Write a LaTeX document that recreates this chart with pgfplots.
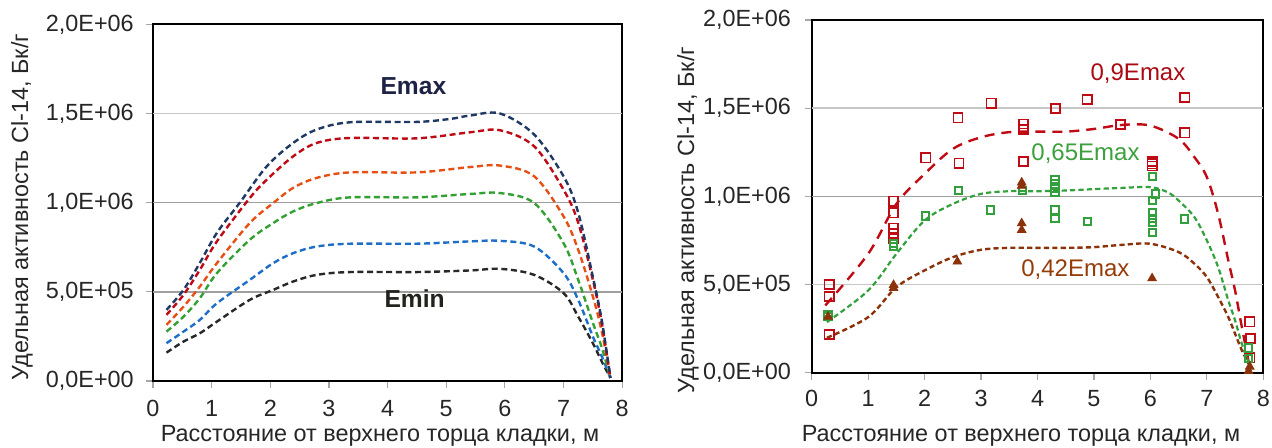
\documentclass[border=0pt]{standalone}
\usepackage{fontspec}
\setmainfont{Liberation Sans}
\usepackage{pgfplots}
\pgfplotsset{compat=1.18}

\definecolor{cnavy}{RGB}{31,56,100}
\definecolor{cred}{RGB}{190,10,20}
\definecolor{corange}{RGB}{230,80,20}
\definecolor{cgreen}{RGB}{50,160,50}
\definecolor{cblue}{RGB}{30,110,200}
\definecolor{cblack}{RGB}{40,40,40}
\definecolor{rred}{RGB}{192,10,20}
\definecolor{rgreen}{RGB}{50,160,60}
\definecolor{rbrown}{RGB}{140,50,10}

\newcommand{\lblfont}{\fontsize{11.7}{14}\selectfont}

\pgfplotsset{
  panel/.style={
    scale only axis,
    xmin=0, xmax=8, ymin=0, ymax=2e6,
    scaled y ticks=false, scaled x ticks=false,
    xtick={0,1,2,3,4,5,6,7,8},
    xticklabels={0,1,2,3,4,5,6,7,8},
    ytick={0,5e5,1e6,1.5e6,2e6},
    yticklabels={{0,0E+00},{5,0E+05},{1,0E+06},{1,5E+06},{2,0E+06}},
    tick align=outside, tick pos=left,
    major tick length=3.5pt,
    tick style={gray!70, line width=0.6pt},
    axis line style={black, line width=1.1pt},
    ticklabel style={font=\lblfont, text=black!85},
    clip=false,
  },
  lcurve/.style={smooth, tension=0.55, line width=1.2pt, dash pattern=on 3pt off 1.8pt, no marks},
}

\begin{document}
\begin{tikzpicture}
\path[use as bounding box] (0,0) rectangle (636pt,224pt);

%% ===== left panel: six model curves =====
\begin{axis}[panel,
  at={(76.5pt,33.5pt)}, anchor=south west,
  width=234.6pt, height=178.3pt,
  xticklabel style={yshift=-2.5pt},
  yticklabel style={xshift=-2.6pt},
]
\draw[gray!45, line width=0.8pt] (axis cs:0,1.5e6) -- (axis cs:8,1.5e6);
\draw[gray!75, line width=0.8pt] (axis cs:0,1e6) -- (axis cs:8,1e6);
\draw[gray!75, line width=0.8pt] (axis cs:0,5e5) -- (axis cs:8,5e5);

\addplot[lcurve, cblack] coordinates {
 (0.23,159e3)(0.52,221e3)(0.8,268e3)(1.09,333e3)(1.65,455e3)(2.05,511e3)(2.39,558e3)
 (2.79,595e3)(3.36,611e3)(4.5,611e3)(5.41,620e3)(5.92,629e3)(6.5,595e3)(7.0,493e3)
 (7.25,361e3)(7.5,212e3)(7.65,110e3)(7.8,17e3)};
\addplot[lcurve, cblue] coordinates {
 (0.23,212e3)(0.52,277e3)(0.8,343e3)(1.09,436e3)(1.65,567e3)(2.05,661e3)(2.39,717e3)
 (2.79,754e3)(3.36,770e3)(4.5,770e3)(5.41,783e3)(5.92,786e3)(6.5,754e3)(7.0,605e3)
 (7.25,455e3)(7.5,249e3)(7.65,140e3)(7.8,17e3)};
\addplot[lcurve, cgreen] coordinates {
 (0.23,277e3)(0.52,361e3)(0.8,465e3)(1.09,605e3)(1.65,792e3)(2.05,886e3)(2.39,951e3)
 (2.79,998e3)(3.36,1.03e6)(4.5,1.03e6)(5.41,1.049e6)(5.92,1.054e6)(6.5,998e3)(7.0,773e3)
 (7.25,567e3)(7.5,326e3)(7.65,190e3)(7.8,17e3)};
\addplot[lcurve, corange] coordinates {
 (0.23,315e3)(0.52,417e3)(0.8,530e3)(1.09,661e3)(1.65,886e3)(2.05,998e3)(2.39,1.083e6)
 (2.79,1.139e6)(3.36,1.17e6)(4.5,1.17e6)(5.41,1.2e6)(5.92,1.208e6)(6.5,1.148e6)(7.0,923e3)
 (7.25,736e3)(7.5,474e3)(7.65,280e3)(7.8,17e3)};
\addplot[lcurve, cred] coordinates {
 (0.23,371e3)(0.52,483e3)(0.8,624e3)(1.09,783e3)(1.65,1.026e6)(1.94,1.129e6)(2.39,1.26e6)
 (2.79,1.335e6)(3.36,1.363e6)(4.5,1.361e6)(5.41,1.395e6)(5.92,1.406e6)(6.5,1.316e6)(7.0,1.073e6)
 (7.25,888e3)(7.5,567e3)(7.65,330e3)(7.8,17e3)};
\addplot[lcurve, cnavy] coordinates {
 (0.23,399e3)(0.52,511e3)(0.8,663e3)(1.09,831e3)(1.48,1.0e6)(1.94,1.204e6)(2.39,1.335e6)
 (2.79,1.41e6)(3.36,1.451e6)(4.5,1.453e6)(5.07,1.47e6)(5.41,1.489e6)(5.92,1.5e6)(6.5,1.382e6)
 (7.0,1.148e6)(7.25,944e3)(7.5,584e3)(7.65,343e3)(7.8,17e3)};

\node[font=\fontsize{12.3}{14}\selectfont\bfseries, text={rgb,255:red,30;green,35;blue,70}]
  at (axis cs:4.44,1.652e6) {Emax};
\node[font=\fontsize{12.3}{14}\selectfont\bfseries, text={rgb,255:red,35;green,35;blue,30}]
  at (axis cs:4.46,461e3) {Emin};
\end{axis}

%% ===== right panel: measurements and fitted curves =====
\begin{axis}[panel,
  at={(405.85pt,37.65pt)}, anchor=south west,
  width=225.8pt, height=176.35pt,
  xticklabel style={yshift=-1.8pt},
  yticklabel style={xshift=-3.4pt},
]
\draw[gray!45, line width=0.8pt] (axis cs:0,1.5e6) -- (axis cs:8,1.5e6);
\draw[gray!75, line width=0.8pt] (axis cs:0,1e6) -- (axis cs:8,1e6);
\draw[gray!45, line width=0.8pt] (axis cs:0,5e5) -- (axis cs:8,5e5);

% 0.9 Emax
\addplot[smooth, tension=0.55, rred, line width=1.2pt, dash pattern=on 5pt off 3.5pt, no marks] coordinates {
 (0.24,381e3)(1.0,674e3)(1.5,957e3)(2.0,1.127e6)(2.5,1.269e6)(3.0,1.335e6)(3.5,1.364e6)
 (4.0,1.367e6)(4.5,1.367e6)(5.0,1.382e6)(5.5,1.405e6)(6.0,1.401e6)(6.5,1.326e6)(6.78,1.222e6)
 (7.0,1.109e6)(7.2,901e3)(7.38,636e3)(7.5,466e3)(7.62,259e3)(7.76,30e3)};
% 0.65 Emax
\addplot[smooth, tension=0.55, rgreen, line width=1.1pt, dash pattern=on 2.6pt off 1.6pt, no marks] coordinates {
 (0.27,287e3)(1.0,466e3)(1.5,674e3)(2.0,863e3)(2.5,957e3)(3.0,1.014e6)(3.5,1.029e6)
 (4.0,1.029e6)(4.5,1.033e6)(5.0,1.041e6)(5.5,1.048e6)(6.0,1.052e6)(6.3,1.024e6)(6.5,976e3)
 (6.78,882e3)(7.0,750e3)(7.2,599e3)(7.38,410e3)(7.5,297e3)(7.62,164e3)(7.77,32e3)};
% 0.42 Emax
\addplot[smooth, tension=0.55, rbrown, line width=1.2pt, dash pattern=on 2.6pt off 1.6pt, no marks] coordinates {
 (0.27,198e3)(1.0,315e3)(1.5,485e3)(2.0,580e3)(2.5,655e3)(3.0,697e3)(3.5,708e3)
 (4.0,708e3)(4.5,708e3)(5.0,712e3)(5.5,725e3)(6.0,731e3)(6.5,684e3)(6.78,618e3)
 (7.0,542e3)(7.2,429e3)(7.38,315e3)(7.5,221e3)(7.62,127e3)(7.77,32e3)};

\addplot[only marks, mark=square, mark size=2.3pt, mark options={draw=rred, line width=0.8pt}] coordinates {
 (0.31,499e3)(0.31,432e3)(0.31,217e3)(1.45,973e3)(1.45,907e3)(1.45,819e3)(1.45,790e3)(1.45,762e3)
 (2.02,1.218e6)(2.59,1.445e6)(2.61,1.188e6)(3.18,1.528e6)(3.75,1.41e6)(3.75,1.378e6)(3.75,1.198e6)
 (4.32,1.497e6)(4.88,1.55e6)(5.47,1.408e6)(6.03,1.197e6)(6.03,1.184e6)(6.03,1.172e6)
 (6.61,1.56e6)(6.61,1.36e6)(7.76,289e3)(7.77,195e3)(7.76,85e3)};
\addplot[only marks, mark=square, mark size=1.8pt, mark options={draw=rgreen, line width=1pt}] coordinates {
 (0.29,327e3)(0.29,318e3)(1.45,715e3)(1.45,734e3)(2.01,889e3)(2.6,1.032e6)(3.17,923e3)
 (3.74,1.032e6)(4.31,1.097e6)(4.31,1.07e6)(4.31,1.046e6)(4.31,1.021e6)(4.31,923e3)(4.31,876e3)
 (4.88,856e3)(6.04,1.112e6)(6.09,1.013e6)(6.04,976e3)(6.04,907e3)(6.04,876e3)(6.04,851e3)
 (6.04,794e3)(6.6,872e3)(7.74,81e3)(7.74,140e3)};
\addplot[only marks, mark=triangle*, mark size=2.5pt, mark options={fill=rbrown, draw=rbrown}] coordinates {
 (0.29,318e3)(1.45,497e3)(1.45,480e3)(2.58,630e3)(3.72,1.078e6)(3.72,1.06e6)(3.72,847e3)
 (3.72,809e3)(6.03,535e3)(7.76,34e3)(7.74,10e3)};

\node[font=\fontsize{12}{14}\selectfont, text={rgb,255:red,170;green,10;blue,20}]
  at (axis cs:5.78,1.698e6) {0,9Emax};
\node[font=\fontsize{12}{14}\selectfont, text={rgb,255:red,60;green,160;blue,60}]
  at (axis cs:4.85,1.244e6) {0,65Emax};
\node[font=\fontsize{12}{14}\selectfont, text={rgb,255:red,150;green,60;blue,10}]
  at (axis cs:4.67,582e3) {0,42Emax};
\end{axis}

%% axis titles
\node[font=\lblfont, text=black!85, rotate=90] at (11pt,120.5pt)
  {Удельная активность Cl-14, Бк/г};
\node[font=\lblfont, text=black!85, rotate=90] at (344pt,114pt)
  {Удельная активность Cl-14, Бк/г};
\node[font=\lblfont, text=black!85] at (190pt,6pt)
  {Расстояние от верхнего торца кладки, м};
\node[font=\lblfont, text=black!85] at (510.5pt,6pt)
  {Расстояние от верхнего торца кладки, м};
\end{tikzpicture}
\end{document}
